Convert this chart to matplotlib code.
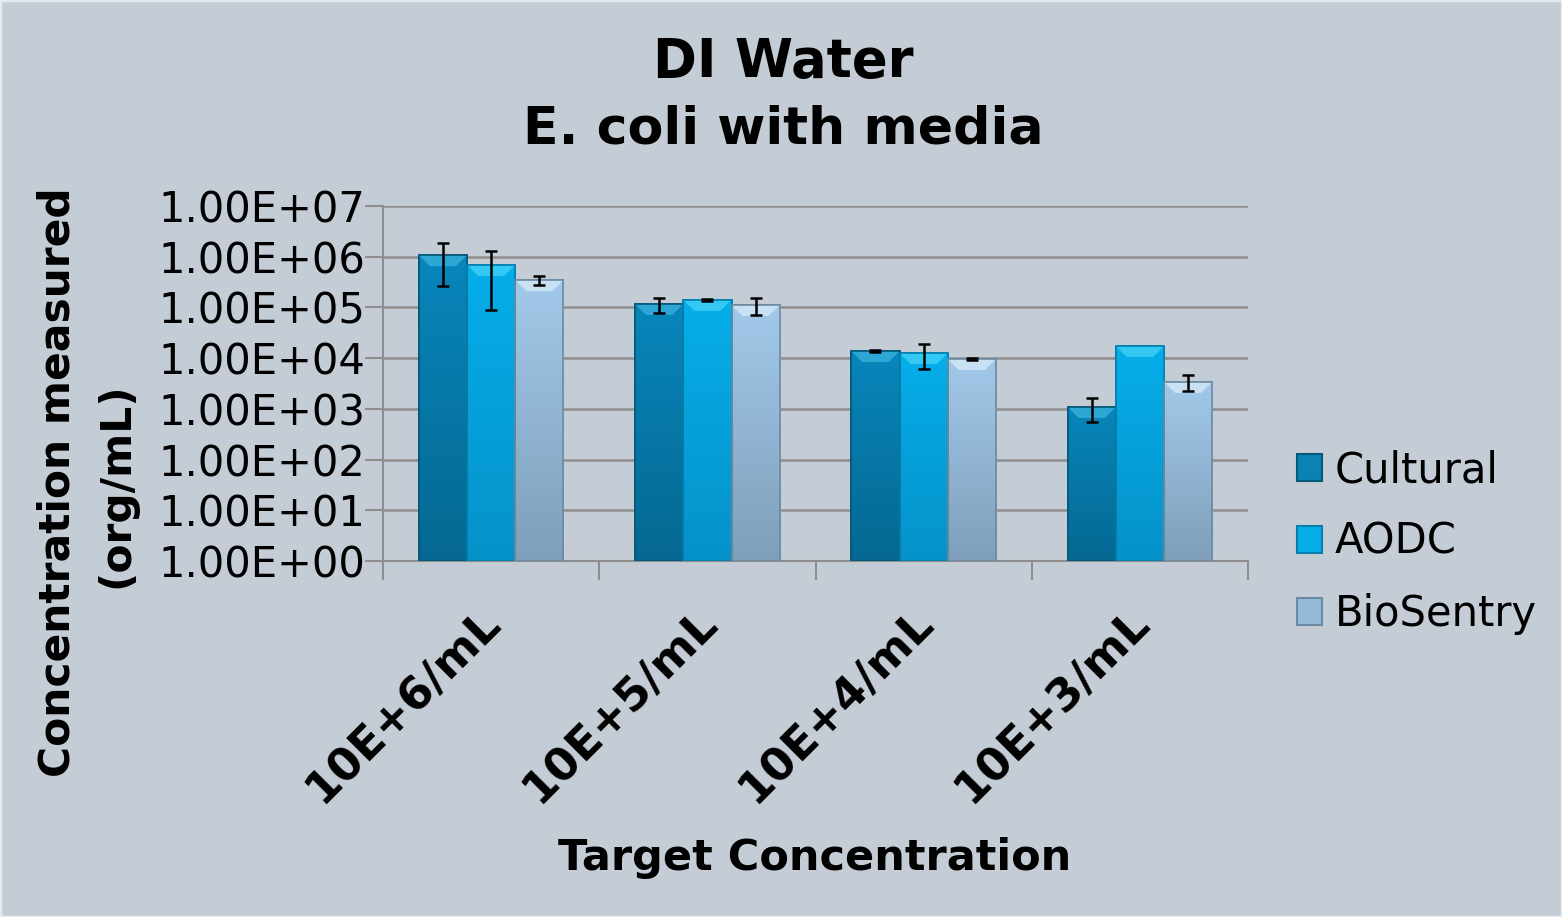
import matplotlib
matplotlib.use("Agg")
import matplotlib.pyplot as plt
import matplotlib.transforms as mtransforms
import numpy as np
from matplotlib.patches import Patch, Polygon, Rectangle
from matplotlib.colors import LinearSegmentedColormap

categories = ["10E+6/mL", "10E+5/mL", "10E+4/mL", "10E+3/mL"]
series = ["Cultural", "AODC", "BioSentry"]
cultural = [1.07e6, 1.17e5, 1.38e4, 1.09e3]
cultural_err = [8.0e5, 3.8e4, 5.0e2, 5.5e2]
aodc = [6.9e5, 1.41e5, 1.26e4, 1.74e4]
aodc_err = [6.0e5, 8.0e3, 6.5e3, 0.0]
biosentry = [3.48e5, 1.12e5, 9.6e3, 3.4e3]
biosentry_err = [7.5e4, 4.0e4, 6.0e2, 1.2e3]
yticks = [1e0, 1e1, 1e2, 1e3, 1e4, 1e5, 1e6, 1e7]
ytick_labels = ["1.00E+00", "1.00E+01", "1.00E+02", "1.00E+03",
                "1.00E+04", "1.00E+05", "1.00E+06", "1.00E+07"]

top_colors = ["#0886BB", "#06AEEA", "#A2C9EA"]
bot_colors = ["#056892", "#0592C9", "#7F9FBA"]
bevel_colors = ["#3CB2DE", "#45D2F8", "#D6ECF9"]
edges = ["#045878", "#047FAE", "#6C8AA3"]
legend_colors = ["#0A82B4", "#08AEE8", "#94BAD8"]
bg = "#C4CCD5"
grid_c = "#8E8E8E"

fig = plt.figure(figsize=(15.62, 9.17), dpi=100, facecolor=bg)
ax = fig.add_axes([0.2452, 0.3882, 0.5538, 0.3872])
ax.set_facecolor(bg)
ax.set_yscale("log")
ax.set_ylim(1, 1e7)
ax.set_xlim(-0.5, len(categories) - 0.5)

x = np.arange(len(categories))
w = 0.223
data = [(cultural, cultural_err), (aodc, aodc_err), (biosentry, biosentry_err)]
to_axes = ax.transData + ax.transAxes.inverted()
ax_w_px = 0.5538 * 1562
ax_h_px = 0.3872 * 917
for i, (vals, errs) in enumerate(data):
    pos = x + (i - 1) * w
    bars = ax.bar(pos, vals, width=w, bottom=1, color=top_colors[i],
                  edgecolor=edges[i], linewidth=1.2, zorder=3, label=series[i])
    cmap = LinearSegmentedColormap.from_list("g%d" % i, [bot_colors[i], top_colors[i]])
    grad = np.linspace(0, 1, 256).reshape(-1, 1)
    for b in bars:
        (ax0, ay0), (ax1, ay1) = to_axes.transform(
            [(b.get_x(), b.get_y()), (b.get_x() + b.get_width(), b.get_y() + b.get_height())])
        im = ax.imshow(grad, cmap=cmap, origin="lower", aspect="auto",
                       extent=[ax0, ax1, ay0, ay1], transform=ax.transAxes,
                       zorder=3.1, interpolation="bilinear")
        im.set_clip_path(b)
        bh = 11 / ax_h_px
        bw = 11 / ax_w_px
        poly = Polygon([(ax0, ay1), (ax1, ay1), (ax1 - bw, ay1 - bh), (ax0 + bw, ay1 - bh)],
                       closed=True, transform=ax.transAxes, facecolor=bevel_colors[i],
                       edgecolor="none", alpha=0.75, zorder=3.2)
        ax.add_patch(poly)
        edge = Rectangle((b.get_x(), b.get_y()), b.get_width(), b.get_height(),
                         facecolor="none", edgecolor=edges[i], linewidth=1.2, zorder=3.3)
        ax.add_patch(edge)
    e = np.array(errs)
    mask = e > 0
    ax.errorbar(pos[mask], np.array(vals)[mask], yerr=e[mask], fmt="none",
                ecolor="black", elinewidth=1.8, capsize=4.5, capthick=1.8, zorder=4)

ax.set_yticks(yticks)
ax.set_yticklabels(ytick_labels, fontsize=30)
ax.yaxis.set_minor_locator(matplotlib.ticker.NullLocator())
ax.set_xticks(x)
ax.set_xticklabels([""] * len(categories))
lab_trans = ax.get_xaxis_transform() + mtransforms.ScaledTranslation(
    -12 / 100, -39 / 100, fig.dpi_scale_trans)
for xi, cat in zip(x, categories):
    ax.text(xi, 0, cat, transform=lab_trans, rotation=45, ha="right", va="top",
            rotation_mode="anchor", fontsize=32.5, fontweight="bold", clip_on=False)
ax.set_xticks(np.arange(-0.5, len(categories)), minor=True)
ax.tick_params(axis="x", which="major", length=0)
ax.tick_params(axis="x", which="minor", length=14, color=grid_c, width=1.5)
ax.tick_params(axis="y", which="major", length=13, color=grid_c, width=1.5, pad=0)
ax.grid(axis="y", color=grid_c, linewidth=1.8, zorder=0)
for s in ["top", "right"]:
    ax.spines[s].set_visible(False)
for s in ["left", "bottom"]:
    ax.spines[s].set_color(grid_c)
    ax.spines[s].set_linewidth(1.5)

fig.text(58 / 1562, 1 - 482 / 917, "Concentration measured", rotation=90,
         ha="center", va="center", fontsize=30.5, fontweight="bold")
fig.text(116 / 1562, 1 - 485 / 917, "(org/mL)", rotation=90,
         ha="center", va="center", fontsize=30.5, fontweight="bold")
fig.text(815 / 1562, 1 - 858 / 917, "Target Concentration", ha="center", va="center",
         fontsize=31, fontweight="bold")
fig.text(783 / 1562, 1 - 62 / 917, "DI Water", ha="center", va="center",
         fontsize=38, fontweight="bold")
fig.text(783 / 1562, 1 - 130 / 917, "E. coli with media", ha="center", va="center",
         fontsize=37.5, fontweight="bold")

handles = [Patch(facecolor=legend_colors[i], edgecolor=edges[i], linewidth=1.5, label=series[i])
           for i in range(3)]
leg = fig.legend(handles=handles, loc="center left", bbox_to_anchor=(1297 / 1562, 1 - 542 / 917),
                 frameon=False, fontsize=30, handlelength=0.6, handleheight=0.6,
                 handletextpad=0.3, labelspacing=0.72, borderaxespad=0, borderpad=0)

fig.patches.append(Rectangle((0, 0), 1, 1, transform=fig.transFigure, fill=False,
                             edgecolor="#E6EAEE", linewidth=2.5))
fig.savefig("out.png", dpi=100, facecolor=bg)
